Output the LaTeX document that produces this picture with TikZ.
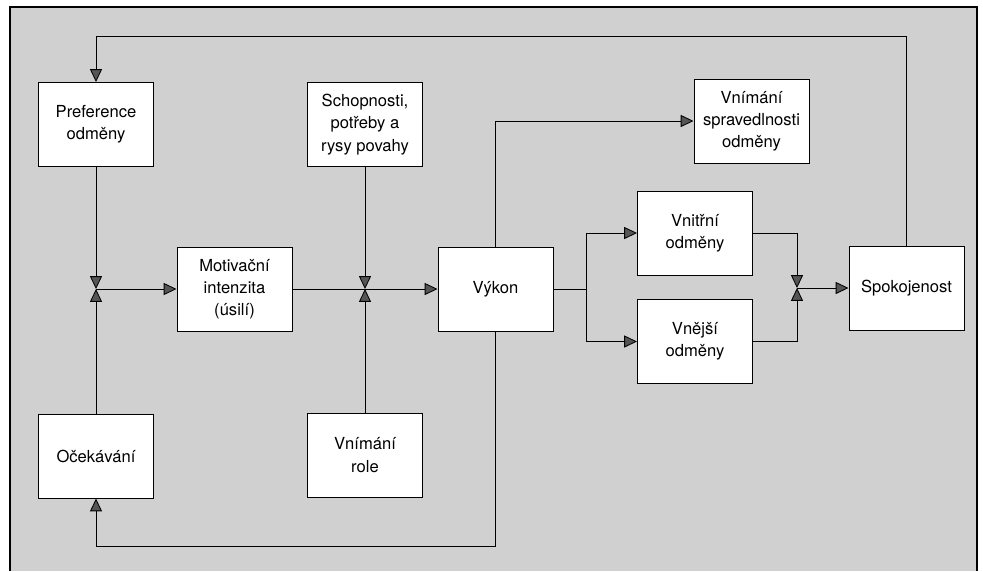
\documentclass[tikz,border=0pt]{standalone}
\usepackage{fontspec}
\setmainfont{TeX Gyre Heros}
\usetikzlibrary{arrows.meta, positioning}
\definecolor{motgray}{RGB}{208,208,208}
\definecolor{motdark}{RGB}{85,85,85}
\tikzset{
  block/.style={
    rectangle, draw=black, line width=0.7pt, fill=white,
    minimum width=28.75mm, minimum height=21mm, inner sep=0pt,
    align=center, font=\fontsize{11.8}{15.8}\selectfont
  },
  arrowflow/.style={-{Triangle[length=3.2mm, width=3mm, fill=motdark]}, line width=0.6pt, draw=black},
  plainflow/.style={line width=0.6pt, draw=black}
}
\begin{document}
\begin{tikzpicture}[x=0.25mm, y=-0.25mm]

\useasboundingbox (0,0) rectangle (983,571);
\fill[motgray] (10,7) rectangle (977,571);
\draw[line width=0.8pt] (10,571) -- (10,7) -- (977,7) -- (977,571);

\node[block] (pref) at (96,124.5) {Preference\\odměny};
\node[block] (schop) at (365,124.5) {Schopnosti,\\potřeby a\\rysy povahy};
\node[block] (motiv) at (234.5,289) {Motivační\\intenzita\\(úsilí)};
\node[block] (vykon) at (495.5,289) {Výkon};
\node[block] (oce) at (96,456) {Očekávání};
\node[block] (role) at (365,455) {Vnímání\\role};
\node[block] (sprav) at (751.5,121) {Vnímání\\spravedlnosti\\odměny};
\node[block] (vnitr) at (695,233) {Vnitřní\\odměny};
\node[block] (vnej) at (695,341.5) {Vnější\\odměny};
\node[block] (spok) at (906.5,288) {Spokojenost};

\coordinate (j1) at (pref.south |- motiv.west);
\coordinate (j2) at (schop.south |- motiv.east);
\coordinate (j3) at (797,288);
\coordinate (br) at (586,289);
\coordinate (topl) at (96,36);
\coordinate (botl) at (96,546);

\foreach \a/\b in {pref/j1, oce/j1, j1/motiv, schop/j2, role/j2, motiv/vykon, j3/spok}
  \draw[arrowflow] (\a) -- (\b);

\draw[plainflow] (vykon) -- (br);
\draw[arrowflow] (br) |- (vnitr);
\draw[arrowflow] (br) |- (vnej);
\draw[arrowflow] (vnitr) -| (j3);
\draw[arrowflow] (vnej) -| (j3);

% feedback loops
\draw[arrowflow] (spok.north) |- (topl) -- (pref);
\draw[arrowflow] (vykon.north) |- (sprav);
\draw[arrowflow] (vykon.south) |- (botl) -- (oce);
\end{tikzpicture}
\end{document}
